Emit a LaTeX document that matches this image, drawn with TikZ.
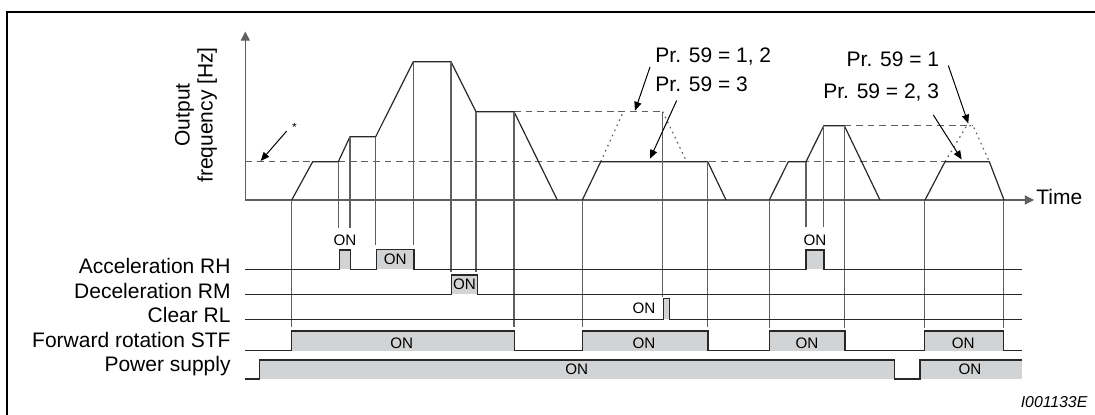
\documentclass[tikz,border=0pt]{standalone}
\usepackage{fontspec}
\setmainfont{Liberation Sans}
\usetikzlibrary{arrows.meta}
\definecolor{pulsefill}{RGB}{210,211,213}
\definecolor{vgray}{RGB}{95,95,95}
\definecolor{lgray}{RGB}{40,40,40}
\begin{document}
\begin{tikzpicture}[x=0.5pt,y=-0.5pt,
  frame/.style={line width=1.2pt,black},
  axis/.style={line width=0.6pt,vgray,-{Triangle[length=4.6pt,width=4.6pt]}},
  profile/.style={line width=0.6pt,lgray,line join=round},
  hdash/.style={line width=0.55pt,vgray,dash pattern=on 3.4pt off 2.4pt},
  hdot/.style={line width=0.6pt,vgray,dash pattern=on 0.8pt off 2pt},
  vmark/.style={line width=0.55pt,vgray},
  signal/.style={line width=0.6pt,lgray,line join=miter},
  pulse/.style={fill=pulsefill,draw=none},
  lbl/.style={font=\fontsize{10.5}{11.5}\selectfont,inner sep=0pt},
  onlbl/.style={font=\fontsize{7.6}{8}\selectfont,inner sep=0pt},
  callout/.style={line width=0.5pt,black,-{Triangle[length=4.4pt,width=3.6pt]}}
]
\useasboundingbox (0,0) rectangle (1095,415);
\fill[white] (0,0) rectangle (1095,415);
% frame
\draw[frame] (7,416) -- (7,12) -- (1096,12);

% axes
\coordinate (O) at (245.3,200);
\coordinate (ytop) at (245.3,31.5);
\coordinate (xend) at (1034,200);
\draw[axis] (O) -- (ytop);
\draw[axis] (O) -- (xend);
\node[lbl,anchor=base west] (time) at (1036,205) {Time};
\node[lbl,rotate=90,align=center] (ylabel) at (196,115) {Output\\frequency [Hz]};

% dashed reference levels
\draw[hdash] (245.3,161.7) -- (989,161.7);
\draw[hdash] (514,111.7) -- (662.7,111.7);
\draw[hdash] (844.3,125.7) -- (972,125.7);
% dotted alternative curves
\draw[hdot] (600.7,161.7) -- (623.3,111.7);
\draw[hdot] (662.7,111.7) -- (686.7,161.7);
\draw[hdot] (945,161.7) -- (966.7,125.7) -- (973,125.7) -- (989.3,161.7);

% frequency profile
\draw[profile] (291.7,200) -- (312.7,161.7) -- (338.3,161.7) -- (350,136.7) -- (375.7,136.7)
  -- (413.3,61.7) -- (451,61.7) -- (476,111.7) -- (514,111.7) -- (557.3,200);
\draw[profile] (582.3,200) -- (600.7,161.7) -- (707.7,161.7) -- (726,200);
\draw[profile] (769.3,200) -- (788.3,161.7) -- (806,161.7) -- (823.8,125.7) -- (844.3,125.7) -- (880,200);
\draw[profile] (925,200) -- (945,161.7) -- (989.3,161.7) -- (1004,200);

% vertical markers
\foreach \x/\a/\b in {291.7/200/326.7, 338.3/161.7/228, 350/136.7/228, 375.7/136.7/245,
  413.3/61.7/245, 451/61.7/272, 476/111.7/272, 514/111.7/326.7, 582.3/200/326.7,
  662.7/111.7/297, 707.7/161.7/326.7, 769.3/200/328, 806/161.7/227, 823.8/125.7/227,
  844.3/125.7/328, 924.5/200/328, 1003.6/200/328}
  \draw[vmark] (\x,\a) -- (\x,\b);

% callouts
\node[font=\fontsize{6}{6}\selectfont,inner sep=0pt] (star) at (294.5,127) {*};
\coordinate (starfrom) at (286.7,131);
\coordinate (starto) at (260.7,161);
\draw[callout] (starfrom) -- (starto);

\node[lbl,anchor=base west] (pr12) at (655,62.3) {Pr. 59 = 1, 2};
\node[lbl,anchor=base west] (pr3) at (655,91.7) {Pr. 59 = 3};
\node[lbl,anchor=base east] (pr1) at (939.5,66.7) {Pr. 59 = 1};
\node[lbl,anchor=base east] (pr23) at (939.5,99) {Pr. 59 = 2, 3};
\coordinate (a1s) at (650,67);
\coordinate (a1e) at (635,110.7);
\coordinate (a2s) at (676.7,100.5);
\coordinate (a2e) at (650,158.7);
\coordinate (a3s) at (948.3,65.5);
\coordinate (a3e) at (968.3,123.5);
\coordinate (a4s) at (933.3,115);
\coordinate (a4e) at (961.7,159.5);
\draw[callout] (a1s) -- (a1e);
\draw[callout] (a2s) -- (a2e);
\draw[callout] (a3s) -- (a3e);
\draw[callout] (a4s) -- (a4e);

% signal names
\node[lbl,anchor=base east] (sRH) at (231,274) {Acceleration RH};
\node[lbl,anchor=base east] (sRM) at (231,299) {Deceleration RM};
\node[lbl,anchor=base east] (sRL) at (231,323) {Clear RL};
\node[lbl,anchor=base east] (sSTF) at (231,347.5) {Forward rotation STF};
\node[lbl,anchor=base east] (sPS) at (231,371.7) {Power supply};

% pulse fills
\fill[pulse] (339.3,250) rectangle (350.7,269.3);
\fill[pulse] (376.7,249.3) rectangle (414,269.3);
\fill[pulse] (806,250) rectangle (824,269.3);
\fill[pulse] (451.7,275) rectangle (477.3,294.3);
\fill[pulse] (663.3,298.3) rectangle (669.3,319.3);
\fill[pulse] (291.7,331) rectangle (514.7,350.7);
\fill[pulse] (582.7,331) rectangle (708,350.7);
\fill[pulse] (769.3,331) rectangle (845,350.7);
\fill[pulse] (924.7,331) rectangle (1003.6,350.7);
\fill[pulse] (259.3,360) rectangle (894.3,379);
\fill[pulse] (920,360) rectangle (1021.7,379);

% signal traces
\draw[signal] (245,269.3) -- (339.3,269.3) -- (339.3,250) -- (350.7,250) -- (350.7,269.3)
  -- (376.7,269.3) -- (376.7,249.3) -- (414,249.3) -- (414,269.3) -- (806,269.3)
  -- (806,250) -- (824,250) -- (824,269.3) -- (1021.7,269.3);
\draw[signal] (245,294.3) -- (451.7,294.3) -- (451.7,275) -- (477.3,275) -- (477.3,294.3) -- (1021.7,294.3);
\draw[signal] (245,319.3) -- (663.3,319.3) -- (663.3,298.3) -- (669.3,298.3) -- (669.3,319.3) -- (1021.7,319.3);
\draw[signal] (245,350.7) -- (291.7,350.7) -- (291.7,331) -- (514.7,331) -- (514.7,350.7)
  -- (582.7,350.7) -- (582.7,331) -- (708,331) -- (708,350.7) -- (769.3,350.7)
  -- (769.3,331) -- (845,331) -- (845,350.7) -- (924.7,350.7) -- (924.7,331)
  -- (1003.6,331) -- (1003.6,350.7) -- (1021.7,350.7);
\draw[signal] (245,379) -- (259.3,379) -- (259.3,360) -- (894.3,360) -- (894.3,379)
  -- (920,379) -- (920,360) -- (1021.7,360);

% ON labels
\node[onlbl] (on1) at (345,240.7) {ON};
\node[onlbl] (on2) at (395.3,258.8) {ON};
\node[onlbl] (on3) at (815,240.7) {ON};
\node[onlbl] (on4) at (464.5,284.5) {ON};
\node[onlbl] (on5) at (644,308.3) {ON};
\node[onlbl] (on6) at (401.7,343.3) {ON};
\node[onlbl] (on7) at (644,343.3) {ON};
\node[onlbl] (on8) at (807,343.3) {ON};
\node[onlbl] (on9) at (963.3,343.3) {ON};
\node[onlbl] (on10) at (576.7,369.3) {ON};
\node[onlbl] (on11) at (970,369.3) {ON};

% figure id
\node[font=\fontsize{7.9}{8}\selectfont\itshape,inner sep=0pt,anchor=base east] (figid) at (1087.7,407.5) {I001133E};
\end{tikzpicture}
\end{document}
